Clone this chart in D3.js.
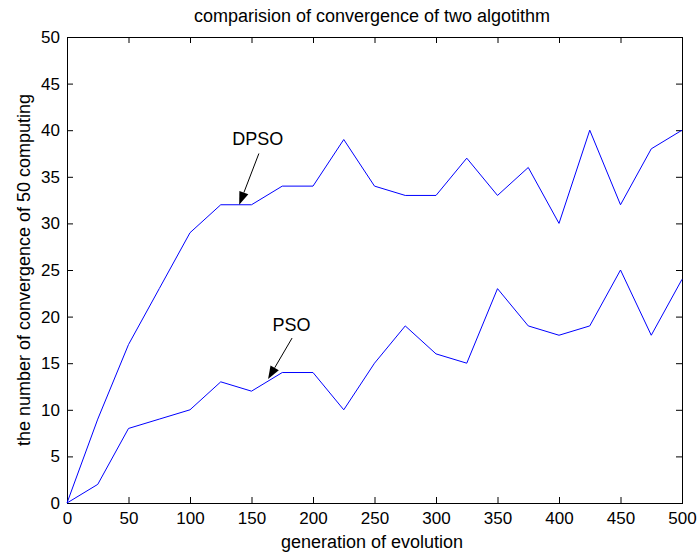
<!DOCTYPE html>
<html>
<head>
<meta charset="utf-8">
<script src="https://cdn.jsdelivr.net/npm/d3@7"></script>
<style>
  html, body { margin: 0; padding: 0; background: #fff; }
  svg { display: block; font-family: "Liberation Sans", Arial, Helvetica, sans-serif; }
</style>
</head>
<body>
<svg id="chart" width="698" height="554"></svg>
<script>
// Generations sampled every 25 steps
const generations = [0, 25, 50, 75, 100, 125, 150, 175, 200, 225, 250,
                     275, 300, 325, 350, 375, 400, 425, 450, 475, 500];
// Number of converged runs (out of 50) for each algorithm
const dpsoValues = [0, 9, 17, 23, 29, 32, 32, 34, 34, 39, 34,
                    33, 33, 37, 33, 36, 30, 40, 32, 38, 40];
const psoValues  = [0, 2, 8, 9, 10, 13, 12, 14, 14, 10, 15,
                    19, 16, 15, 23, 19, 18, 19, 25, 18, 24];
const xTicks = [0, 50, 100, 150, 200, 250, 300, 350, 400, 450, 500];
const yTicks = [0, 5, 10, 15, 20, 25, 30, 35, 40, 45, 50];

// Annotation text with arrow tail / tip in data units
const annotations = [
  { text: "DPSO", tx: 155, ty: 38.4, from: [156, 37.5], to: [140, 32] },
  { text: "PSO",  tx: 182.5, ty: 18.45, from: [183, 17.7], to: [163.5, 13.3] }
];

const W = 698, H = 554;
const margin = { top: 37, right: 16, bottom: 51, left: 67 };
const iw = W - margin.left - margin.right;
const ih = H - margin.top - margin.bottom;

const svg = d3.select("#chart");
const g = svg.append("g").attr("transform", `translate(${margin.left},${margin.top})`);

const x = d3.scaleLinear().domain([0, 500]).range([0, iw]);
const y = d3.scaleLinear().domain([0, 50]).range([ih, 0]);

const tickLen = 6;
const fontTick = 17;

// Axes: ticks point inward on all four sides
const axisStyle = sel => {
  sel.select(".domain").remove();
  sel.selectAll(".tick line").attr("stroke", "#000").attr("stroke-width", 1);
  sel.selectAll(".tick text").attr("fill", "#000").attr("font-size", fontTick)
     .attr("font-family", "'Liberation Sans', Arial, sans-serif");
};

g.append("g").attr("transform", `translate(0,${ih})`)
  .call(d3.axisBottom(x).tickValues(xTicks).tickSize(-tickLen).tickPadding(9).tickFormat(d3.format("d")))
  .call(axisStyle);
g.append("g")
  .call(d3.axisTop(x).tickValues(xTicks).tickSize(-tickLen).tickFormat(""))
  .call(axisStyle);
g.append("g")
  .call(d3.axisLeft(y).tickValues(yTicks).tickSize(-tickLen).tickPadding(7).tickFormat(d3.format("d")))
  .call(axisStyle);
g.append("g").attr("transform", `translate(${iw},0)`)
  .call(d3.axisRight(y).tickValues(yTicks).tickSize(-tickLen).tickFormat(""))
  .call(axisStyle);

// Plot box
g.append("rect").attr("x", 0).attr("y", 0).attr("width", iw).attr("height", ih)
  .attr("fill", "none").attr("stroke", "#000").attr("stroke-width", 1)
  .attr("shape-rendering", "crispEdges");

// Series lines
const line = d3.line().x((d, i) => x(generations[i])).y(d => y(d));
[dpsoValues, psoValues].forEach(vals => {
  g.append("path").datum(vals)
    .attr("d", line)
    .attr("fill", "none")
    .attr("stroke", "#0000ff")
    .attr("stroke-width", 1);
});

// Annotations: label + arrow with filled head
annotations.forEach(a => {
  const x0 = x(a.from[0]), y0 = y(a.from[1]);
  const x1 = x(a.to[0]), y1 = y(a.to[1]);
  const dx = x1 - x0, dy = y1 - y0;
  const len = Math.hypot(dx, dy);
  const ux = dx / len, uy = dy / len;
  const headLen = 13, headHalf = 4.8;
  const bx = x1 - ux * headLen, by = y1 - uy * headLen;
  g.append("line")
    .attr("x1", x0).attr("y1", y0).attr("x2", bx).attr("y2", by)
    .attr("stroke", "#000").attr("stroke-width", 1);
  g.append("path")
    .attr("d", `M${x1},${y1}L${bx - uy * headHalf},${by + ux * headHalf}L${bx + uy * headHalf},${by - ux * headHalf}Z`)
    .attr("fill", "#000");
  g.append("text")
    .attr("x", x(a.tx)).attr("y", y(a.ty))
    .attr("text-anchor", "middle")
    .attr("font-size", 18)
    .attr("fill", "#000")
    .text(a.text);
});

// Title and axis labels
svg.append("text")
  .attr("x", 372).attr("y", 22)
  .attr("text-anchor", "middle").attr("font-size", 18).attr("fill", "#000")
  .text("comparision of convergence of two algotithm");

svg.append("text")
  .attr("x", 372).attr("y", 548)
  .attr("text-anchor", "middle").attr("font-size", 18).attr("fill", "#000")
  .text("generation of evolution");

svg.append("text")
  .attr("transform", `translate(30,${margin.top + ih / 2}) rotate(-90)`)
  .attr("text-anchor", "middle").attr("font-size", 18).attr("fill", "#000")
  .text("the number of convergence of 50 computing");
</script>
</body>
</html>
